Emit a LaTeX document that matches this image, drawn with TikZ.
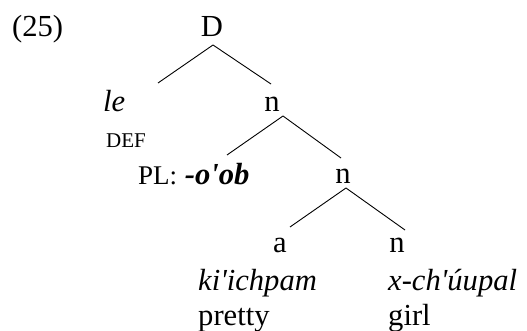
\documentclass[tikz,border=0pt]{standalone}
\usepackage{fontspec}
\setmainfont{Liberation Serif}[Ligatures=TeXOff]
\def\bigFont{\fontsize{30.6}{36}\selectfont}
\def\midFont{\fontsize{27}{32}\selectfont}
\def\smallFont{\fontsize{21}{25}\selectfont}
\tikzset{
  cat/.style={inner sep=0pt,anchor=base,font=\bigFont},
  word/.style={inner sep=0pt,anchor=base west,font=\bigFont\itshape},
  gloss/.style={inner sep=0pt,anchor=base west,font=\bigFont},
  feat/.style={inner sep=0pt,anchor=base west,font=\smallFont},
  branch/.style={line width=0.9pt}
}

\begin{document}
\begin{tikzpicture}[x=1pt,y=-1pt]
    \useasboundingbox (0,0) rectangle (527,331);

    \node[gloss] (ex) at (12,37) {(25)};

    \node[cat] (D) at (212,37) {D};
    \node[word] (le) at (103,112) {le};
    \node[feat] (def) at (106,148) {DEF};
    \node[cat] (nTop) at (272,112) {n};

    \node[gloss] (pl) at (138,185) {{\midFont PL:} \textbf{\textit{-o'ob}}};
    \node[cat] (nMid) at (343,184) {n};

    \node[cat] (a) at (280,252) {a};
    \node[cat] (nLow) at (397,252) {n};
    \node[word] (adj) at (198,290) {ki'ichpam};
    \node[word] (noun) at (388,290) {x-ch'úupal};
    \node[gloss] (adjGloss) at (198,325) {pretty};
    \node[gloss] (nounGloss) at (388,325) {girl};

    \coordinate (D-l) at (158,83);
    \coordinate (D-r) at (271,84);
    \coordinate (nTop-l) at (227,155);
    \coordinate (nTop-r) at (341,158);
    \coordinate (nMid-l) at (290,227);
    \coordinate (nMid-r) at (405,230);

    \draw[branch] ([shift={(1pt,-8pt)}]D.base) -- (D-l);
    \draw[branch] ([shift={(1pt,-8pt)}]D.base) -- (D-r);
    \draw[branch] ([shift={(11pt,-4pt)}]nTop.base) -- (nTop-l);
    \draw[branch] ([shift={(11pt,-4pt)}]nTop.base) -- (nTop-r);
    \draw[branch] ([shift={(3pt,-4pt)}]nMid.base) -- (nMid-l);
    \draw[branch] ([shift={(3pt,-4pt)}]nMid.base) -- (nMid-r);
\end{tikzpicture}
\end{document}
